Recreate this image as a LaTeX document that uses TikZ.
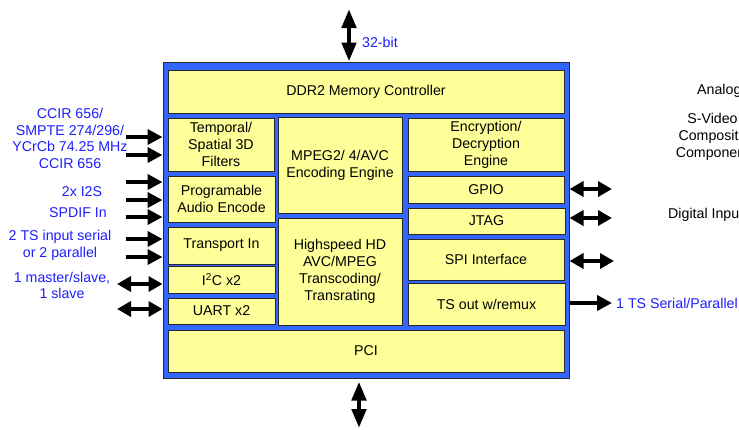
\documentclass[tikz,border=0pt]{standalone}
\usepackage{fontspec}
\setmainfont{Liberation Sans}
\usetikzlibrary{arrows.meta}
\definecolor{chipblue}{RGB}{51,102,255}
\definecolor{boxyellow}{RGB}{255,255,153}
\definecolor{labblue}{RGB}{30,30,255}
\definecolor{edgegray}{RGB}{40,40,40}
\begin{document}
\begin{tikzpicture}[x=1pt,y=-1pt,
  every node/.style={font=\fontsize{14.2}{17}\selectfont},
  chipbox/.style={draw=edgegray,line width=1pt,fill=chipblue,inner sep=0pt},
  blk/.style={draw=edgegray,line width=0.9pt,fill=boxyellow,align=center,inner sep=0pt},
  lab/.style={text=labblue,align=center,inner sep=0pt,font=\fontsize{14.2}{16.5}\selectfont},
  rlab/.style={text=black,align=center,inner sep=0pt,font=\fontsize{14.2}{17}\selectfont},
  arr/.style={line width=4.5pt,-{Triangle[length=15pt,width=15pt]}},
  darr/.style={line width=4.5pt,{Triangle[length=14pt,width=15pt]}-{Triangle[length=14pt,width=15pt]}},
  varr/.style={line width=4.5pt,{Triangle[length=19pt,width=14pt]}-{Triangle[length=19pt,width=14pt]}}]
\fill[white] (0,0) rectangle (739,429);
\useasboundingbox (0,0) rectangle (739,429);

% chip
\node[chipbox,minimum width=406pt,minimum height=316pt] (chip) at (366,220) {};
\node[blk,minimum width=396pt,minimum height=43pt] (ddr) at (366,91.5) {DDR2 Memory Controller};
\node[blk,minimum width=106pt,minimum height=53pt] (temporal) at (221,144.5) {Temporal/\\Spatial 3D\\Filters};
\node[blk,minimum width=107pt,minimum height=46pt] (audio) at (221.5,199) {Programable\\Audio Encode};
\node[blk,minimum width=107pt,minimum height=37pt] (tsin) at (221.5,245.5) {Transport In};
\node[blk,minimum width=107pt,minimum height=27pt] (iic) at (221.5,279.5) {I\textsuperscript{2}C x2};
\node[blk,minimum width=107pt,minimum height=26pt] (uart) at (221.5,311) {UART x2};
\node[blk,minimum width=124pt,minimum height=96pt] (mpeg) at (340,165) {MPEG2/ 4/AVC\\Encoding Engine};
\node[blk,minimum width=124pt,minimum height=107pt] (hs) at (340,271.5) {Highspeed HD\\AVC/MPEG\\Transcoding/\\Transrating};
\node[blk,minimum width=156pt,minimum height=53pt] (enc) at (486,144.5) {Encryption/\\Decryption\\Engine};
\node[blk,minimum width=156pt,minimum height=27pt] (gpio) at (486,189.5) {GPIO};
\node[blk,minimum width=157pt,minimum height=26pt] (jtag) at (486.5,221) {JTAG};
\node[blk,minimum width=156pt,minimum height=41pt] (spi) at (486,259.5) {SPI Interface};
\node[blk,minimum width=157pt,minimum height=42pt] (tsout) at (486.5,304) {TS out w/remux};
\node[blk,minimum width=396pt,minimum height=42pt] (pci) at (366,351) {PCI};

% left labels
\node[lab] (lccir) at (70,138.5) {CCIR 656/\\SMPTE 274/296/\\YCrCb 74.25 MHz\\CCIR 656};
\node[lab] (li2s) at (82,192) {2x I2S};
\node[lab] (lspdif) at (78,213) {SPDIF In};
\node[lab] (lts) at (60,245.5) {2 TS input serial\\or 2 parallel};
\node[lab] (lms) at (62,285.5) {1 master/slave,\\1 slave};
\node[lab,anchor=west] (l32) at (362,42) {32-bit};
\node[lab,anchor=west] (ltsout) at (616,303) {1 TS Serial/Parallel};

% right black labels (cut by page edge)
\node[rlab,anchor=west] (ranalog) at (697,91) {Analog Input};
\node[rlab] (rsvideo) at (712.5,137) {S-Video\\Composite\\Component};
\node[rlab,anchor=west] (rdigital) at (668,215) {Digital Input};

% left arrows
\foreach \n/\yy in {a/137,b/155,c/182,d/200,e/217,f/239,g/257}{
  \coordinate (in\n) at (126,\yy);
  \draw[arr] (in\n) -- (in\n -| chip.west);
}
\foreach \n/\yy in {a/284,b/309}{
  \coordinate (bi\n) at (117,\yy);
  \draw[darr] (bi\n) -- (bi\n -| chip.west);
}
% right arrows
\coordinate (rgpio) at (612,189);
\draw[darr] (rgpio -| chip.east) -- (rgpio);
\coordinate (rjtag) at (612,218);
\draw[darr] (rjtag -| chip.east) -- (rjtag);
\coordinate (rspi) at (614,261);
\draw[darr] (rspi -| chip.east) -- (rspi);
\coordinate (rts) at (612,303);
\draw[arr] (rts -| chip.east) -- (rts);
% top and bottom
\coordinate (memtop) at (349,9);
\draw[varr] (memtop) -- (memtop |- chip.north);
\coordinate (pcibot) at (359,428);
\draw[varr,shorten <=3pt] (pcibot |- chip.south) -- (pcibot);
\end{tikzpicture}
\end{document}
